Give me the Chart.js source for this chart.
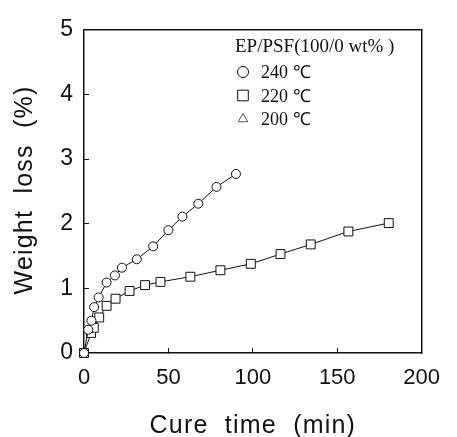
<html>
<meta name="viewport" content="width=device-width, initial-scale=1.0" />
<style>
  body {
    margin: 0;
    background: white;
  }

  .chart-item {
    width: 457px;
    height: 437px;
  }
</style>

<body>
  <script src="https://cdn.jsdelivr.net/npm/chart.js@4.4.0/dist/chart.umd.min.js"></script>
  <div class="chart-item">
    <canvas id="weightLossChart"></canvas>
  </div>
  <script>
    // chart data
    let legendTitle = "EP/PSF(100/0 wt% )";
    let seriesLabels = ["240 \u2103", "220 \u2103", "200 \u2103"];

    let time240 = [0, 2.5, 4.4, 6, 8.7, 13.4, 18.3, 22.5, 31.3, 41, 50, 58.3, 67.7, 78.5, 90];
    let loss240 = [0, 0.36, 0.5, 0.71, 0.86, 1.09, 1.2, 1.32, 1.45, 1.65, 1.9, 2.11, 2.31, 2.57, 2.77];

    let time220 = [0, 4.2, 5.8, 9, 13.4, 18.7, 27, 36.2, 45.3, 63, 80.8, 98.8, 116.4, 134.3, 156.6, 180.5];
    let loss220 = [0, 0.31, 0.39, 0.55, 0.73, 0.84, 0.96, 1.05, 1.1, 1.18, 1.28, 1.38, 1.53, 1.68, 1.88, 2.01];

    // no 200 C points are visible in the figure
    let time200 = [];
    let loss200 = [];

    let xTicks = [0, 50, 100, 150, 200];
    let yTicks = [0, 1, 2, 3, 4, 5];

    let xTitle = "Cure  time  (min)";
    let yTitle = "Weight  loss  (%)";

    // chart fonts
    let tickFont = "Liberation Sans, Arial, sans-serif";
    let legendFont = "Liberation Serif, Times New Roman, serif";

    function toPoints(xs, ys) {
      return xs.map((x, i) => ({ x: x, y: ys[i] }));
    }

    // axis titles and the in-plot legend box
    let textPlugin = {
      id: "figureText",
      afterDraw(chart) {
        let ctx = chart.ctx;
        let area = chart.chartArea;
        ctx.save();
        ctx.fillStyle = "#111";
        ctx.textAlign = "center";
        ctx.textBaseline = "middle";
        ctx.font = "25px " + tickFont;
        ctx.letterSpacing = "1.2px";
        ctx.fillText(xTitle, (area.left + area.right) / 2, 426);
        ctx.translate(25, 190);
        ctx.rotate(-Math.PI / 2);
        ctx.fillText(yTitle, 0, 0);
        ctx.restore();

        ctx.save();
        ctx.fillStyle = "#111";
        ctx.textBaseline = "alphabetic";
        ctx.textAlign = "left";
        ctx.font = "19px " + legendFont;
        ctx.fillText(legendTitle, 235, 52);
        ctx.font = "18px " + legendFont;
        chart.data.datasets.forEach((ds, i) => {
          let y = 72 + i * 23.5;
          ctx.lineWidth = 1;
          ctx.strokeStyle = i === 2 ? "#555" : "#111";
          ctx.fillStyle = "white";
          Chart.helpers.drawPoint(ctx, {
            pointStyle: ds.pointStyle,
            radius: ds.legendRadius,
            borderWidth: 1,
          }, 243, y);
          ctx.fillStyle = "#111";
          ctx.fillText(ds.label, 261, y + 6);
        });
        ctx.restore();
      },
    };

    function makeAxis(position, ticksShown) {
      return {
        type: "linear",
        position: position,
        display: true,
        border: { display: true, color: "#111", width: 1.5 },
        grid: {
          drawOnChartArea: false,
          drawTicks: ticksShown,
          tickLength: -5,
          color: "#111",
          lineWidth: 1,
        },
        ticks: { display: ticksShown },
      };
    }

    let xAxis = makeAxis("bottom", true);
    xAxis.min = 0;
    xAxis.max = 200;
    xAxis.afterBuildTicks = (scale) => {
      scale.ticks = xTicks.map((v) => ({ value: v }));
    };
    xAxis.ticks = { padding: 17, color: "#111", font: { family: tickFont, size: 22 }, maxRotation: 0 };
    xAxis.afterFit = (scale) => { scale.height = 84; };

    let yAxis = makeAxis("left", true);
    yAxis.min = 0;
    yAxis.max = 5;
    yAxis.afterBuildTicks = (scale) => {
      scale.ticks = yTicks.map((v) => ({ value: v }));
    };
    yAxis.ticks = { padding: 16, color: "#111", font: { family: tickFont, size: 23 } };
    yAxis.afterFit = (scale) => { scale.width = 84; };

    // frame on top and right
    let xTop = makeAxis("top", false);
    xTop.min = 0;
    xTop.max = 200;
    xTop.afterFit = (scale) => { scale.height = 0; };
    let yRight = makeAxis("right", false);
    yRight.min = 0;
    yRight.max = 5;
    yRight.afterFit = (scale) => { scale.width = 0; };

    function lineSet(label, xs, ys, style, radius, legendRadius) {
      return {
        label: label,
        data: toPoints(xs, ys),
        borderColor: "#111",
        borderWidth: 1,
        backgroundColor: "white",
        pointBackgroundColor: "white",
        pointBorderColor: "#111",
        pointBorderWidth: 1,
        pointStyle: style,
        pointRadius: radius,
        legendRadius: legendRadius,
        tension: 0,
        clip: false,
        xAxisID: "x",
        yAxisID: "y",
      };
    }

    let ctx = document.getElementById("weightLossChart").getContext("2d");
    new Chart(ctx, {
      type: "line",
      data: {
        datasets: [
          lineSet(seriesLabels[0], time240, loss240, "circle", 4.5, 5.5),
          lineSet(seriesLabels[1], time220, loss220, "rect", 6.3, 7.5),
          lineSet(seriesLabels[2], time200, loss200, "triangle", 4.5, 5.5),
        ],
      },
      options: {
        responsive: true,
        maintainAspectRatio: false,
        animation: false,
        layout: { padding: { left: 0, top: 14, right: 25, bottom: 0 } },
        plugins: {
          legend: { display: false },
          tooltip: { enabled: false },
        },
        scales: {
          x: xAxis,
          y: yAxis,
          x2: xTop,
          y2: yRight,
        },
      },
      plugins: [textPlugin],
    });
  </script>
</body>
</html>
